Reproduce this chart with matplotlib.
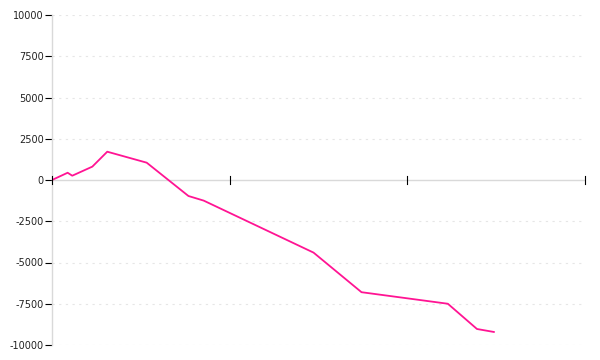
import matplotlib.pyplot as plt

# positions along the x axis (tick units, no labels shown) and values
x_pos = [0.0, 0.088, 0.114, 0.227, 0.311, 0.533, 0.768, 0.854, 1.472, 1.742, 2.228, 2.392, 2.487]
valores = [0, 440, 260, 810, 1715, 1050, -970, -1250, -4400, -6800, -7500, -9030, -9210]
y_ticks = [-10000, -7500, -5000, -2500, 0, 2500, 5000, 7500, 10000]
x_ticks = [0, 1, 2, 3]

fig = plt.figure(figsize=(6, 3.6), dpi=100)
ax = fig.add_axes([52 / 600, 15 / 360, 533 / 600, 330 / 360])

ax.plot(x_pos, valores, color='#ff1493', linewidth=1.3, zorder=3)

ax.set_xlim(0, 3)
ax.set_ylim(-10000, 10000)
ax.set_yticks(y_ticks)
ax.set_yticklabels([str(v) for v in y_ticks], fontsize=7, color='#222222')

for v in y_ticks:
    if v != 0:
        ax.axhline(v, color='#e6e6e6', linewidth=0.8, linestyle=(0, (2, 4)), zorder=1)
ax.axhline(0, color='#d9d9d9', linewidth=1.0, zorder=2)

# x ticks drawn through the zero line, no labels
ax.set_xticks([])
for t in x_ticks:
    ax.plot([t, t], [-250, 250], color='black', linewidth=0.8, clip_on=False, zorder=4)

for s in ['top', 'right', 'bottom']:
    ax.spines[s].set_visible(False)
ax.spines['left'].set_color('#d9d9d9')
ax.spines['left'].set_linewidth(1.0)
ax.tick_params(axis='y', length=5, width=0.8, color='black', pad=1)

plt.savefig('out.png', dpi=100)
